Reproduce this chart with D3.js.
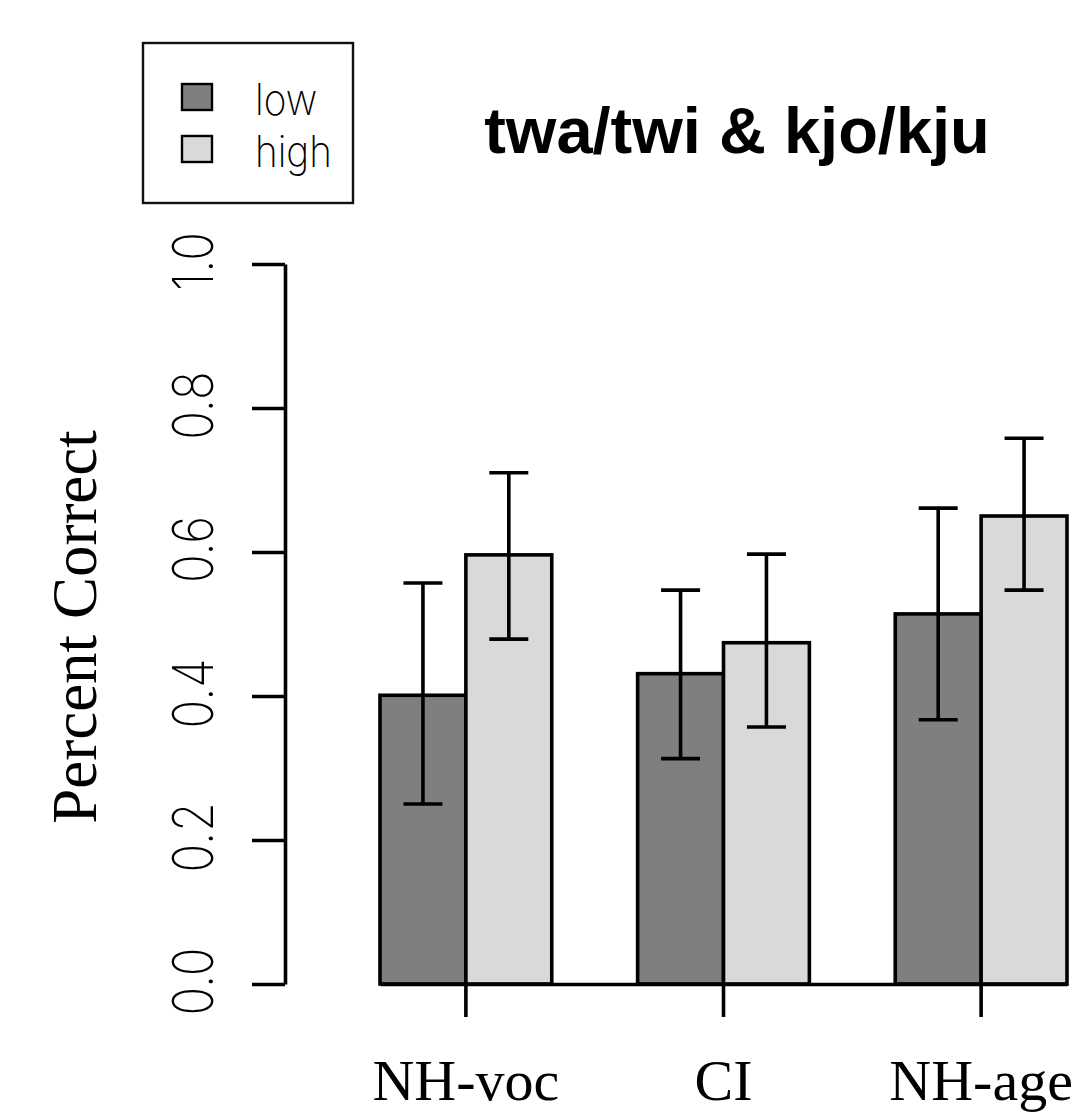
<!DOCTYPE html>
<html>
<head>
<meta charset="utf-8">
<script src="https://cdn.jsdelivr.net/npm/d3@7"></script>
<style>
  html, body { margin: 0; padding: 0; background: #fff; }
  svg { display: block; }
  .thin { font-family: Inter, "DejaVu Sans", sans-serif; font-weight: 200; }
</style>
</head>
<body>
<div id="chart-div"></div>
<script>
// Script globals
const CHART_WIDTH = 1089
const CHART_HEIGHT = 1115
const DIV_ID = "#chart-div"

// data
const groups = ["NH-voc", "CI", "NH-age"]
const levels = ["low", "high"]
const levelColors = ["#7f7f7f", "#d9d9d9"]
const lowMeans = [0.401, 0.431, 0.514]
const highMeans = [0.596, 0.474, 0.650]
const lowUpper = [0.557, 0.547, 0.661]
const lowLower = [0.250, 0.313, 0.367]
const highUpper = [0.710, 0.597, 0.758]
const highLower = [0.479, 0.357, 0.547]
const yTickValues = [0, 0.2, 0.4, 0.6, 0.8, 1.0]
const chartTitle = "twa/twi & kjo/kju"
const yLabel = "Percent Correct"

init();

/**
 * set up the svg and draw
 */
function init () {
  let svg = d3.select(DIV_ID).append("svg")
    .attr("width", CHART_WIDTH)
    .attr("height", CHART_HEIGHT)
    .attr("id", "bars")

  // build rows from the arrays
  const data = groups.map((g, i) => ({
    group: g,
    values: [
      {level: "low", mean: lowMeans[i], lo: lowLower[i], hi: lowUpper[i]},
      {level: "high", mean: highMeans[i], lo: highLower[i], hi: highUpper[i]}
    ]
  }));
  console.log(data)
  update(data, svg);
}

/**
 * Render the bar chart
 */
function update (data, svg) {
  const marginLeft = 380;
  const plotRight = 1067;
  const yBottom = 984;
  const yTop = 264;
  const axisX = 285;
  const lw = 3.6;

  // group scale, gap between groups is one bar wide
  const x0 = d3.scaleBand()
    .domain(groups)
    .range([marginLeft, plotRight])
    .paddingInner(1 / 3)
    .paddingOuter(0)

  const x1 = d3.scaleBand()
    .domain(levels)
    .range([0, x0.bandwidth()])

  const y = d3.scaleLinear()
    .domain([0, 1])
    .range([yBottom, yTop])

  const color = d3.scaleOrdinal()
    .domain(levels)
    .range(levelColors)

  // bars
  const grp = svg.selectAll("g.group")
    .data(data)
    .enter().append("g")
      .attr("class", "group")
      .attr("transform", d => `translate(${x0(d.group)},0)`)

  grp.selectAll("rect")
    .data(d => d.values)
    .enter().append("rect")
      .attr("x", d => x1(d.level))
      .attr("y", d => y(d.mean))
      .attr("width", x1.bandwidth())
      .attr("height", d => y(0) - y(d.mean))
      .attr("fill", d => color(d.level))
      .attr("stroke", "#000")
      .attr("stroke-width", lw)

  // error bars
  const capHalf = 19.5;
  const err = grp.selectAll("g.err")
    .data(d => d.values)
    .enter().append("g")
      .attr("class", "err")
      .attr("stroke", "#000")
      .attr("stroke-width", lw)

  err.append("line")
    .attr("x1", d => x1(d.level) + x1.bandwidth() / 2)
    .attr("x2", d => x1(d.level) + x1.bandwidth() / 2)
    .attr("y1", d => y(d.lo))
    .attr("y2", d => y(d.hi))
  for (let key of ["lo", "hi"]) {
    err.append("line")
      .attr("x1", d => x1(d.level) + x1.bandwidth() / 2 - capHalf)
      .attr("x2", d => x1(d.level) + x1.bandwidth() / 2 + capHalf)
      .attr("y1", d => y(d[key]))
      .attr("y2", d => y(d[key]))
  }

  // x axis
  const xAxis = svg.append("g")
    .attr("class", "xAxis")
    .attr("transform", `translate(0,${yBottom})`)
    .call(d3.axisBottom(x0).tickSize(33).tickSizeOuter(0))
  xAxis.select(".domain").attr("stroke-width", lw)
  xAxis.selectAll(".tick line").attr("stroke-width", lw)
  xAxis.selectAll(".tick text")
    .attr("y", 116)
    .attr("dy", 0)
    .attr("fill", "#000")
    .style("font-family", "'Liberation Serif', 'Times New Roman', serif")
    .style("font-size", "58px")

  // y axis
  const yAxis = svg.append("g")
    .attr("class", "yAxis")
    .attr("transform", `translate(${axisX},0)`)
    .call(d3.axisLeft(y).tickValues(yTickValues).tickSize(33).tickSizeOuter(0).tickFormat(d3.format(".1f")))
  yAxis.select(".domain").attr("stroke-width", lw)
  yAxis.selectAll(".tick line").attr("stroke-width", lw)
  yAxis.selectAll(".tick text")
    .attr("x", null)
    .attr("dy", null)
    .attr("class", "thin")
    .attr("text-anchor", "middle")
    .attr("transform", "translate(-72,-3) rotate(-90) scale(0.85,1)")
    .attr("fill", "#000")
    .style("font-size", "56px")

  // axis title
  svg.append("text")
    .attr("transform", "translate(96,627) rotate(-90)")
    .attr("text-anchor", "middle")
    .style("font-family", "'Liberation Serif', 'Times New Roman', serif")
    .style("font-size", "63px")
    .text(yLabel)

  // chart title
  svg.append("text")
    .attr("x", 737)
    .attr("y", 153)
    .attr("text-anchor", "middle")
    .style("font-family", "'Liberation Sans', Arial, sans-serif")
    .style("font-weight", "bold")
    .style("font-size", "65px")
    .text(chartTitle)

  // legend
  const legend = svg.append("g").attr("class", "legend")
  legend.append("rect")
    .attr("x", 143).attr("y", 43)
    .attr("width", 210).attr("height", 160)
    .attr("fill", "none")
    .attr("stroke", "#111")
    .attr("stroke-width", 2.4)

  const item = legend.selectAll("g.item")
    .data(levels)
    .enter().append("g")
      .attr("class", "item")
      .attr("transform", (d, i) => `translate(0,${i * 52})`)
  item.append("rect")
    .attr("x", 182).attr("y", 84)
    .attr("width", 30).attr("height", 26)
    .attr("fill", d => color(d))
    .attr("stroke", "#000")
    .attr("stroke-width", 2.4)
  item.append("text")
    .attr("class", "thin")
    .attr("x", 255)
    .attr("y", 115)
    .attr("fill", "#000")
    .attr("transform", "translate(255,0) scale(0.9,1) translate(-255,0)")
    .style("font-size", "43px")
    .text(d => d)
}
</script>
</body>
</html>
